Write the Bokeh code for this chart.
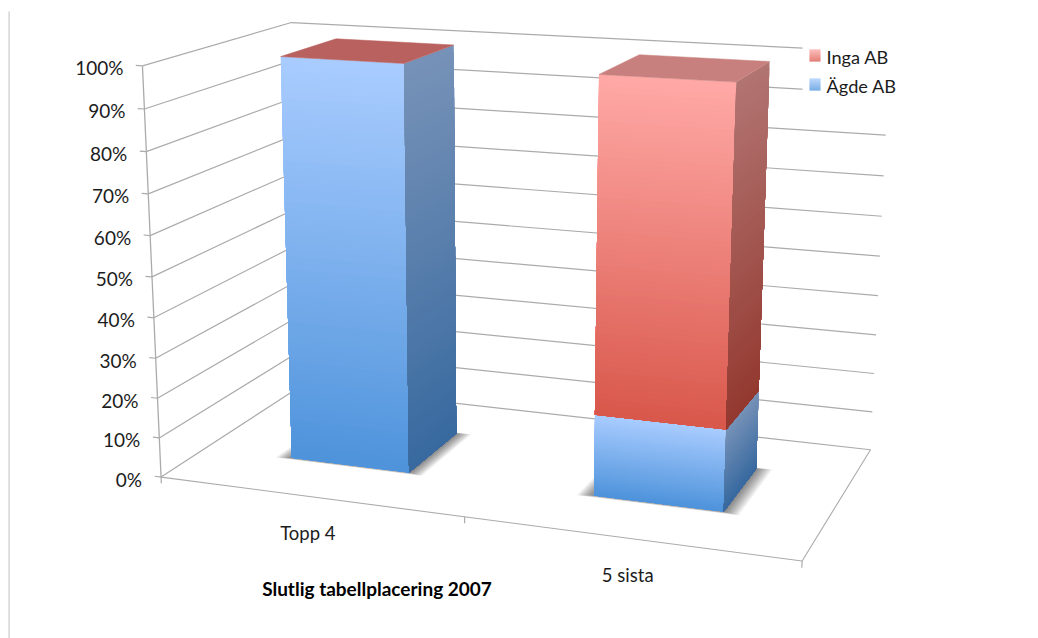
import numpy as np
from bokeh.plotting import figure
from bokeh.models import Range1d
from bokeh.core.properties import value
from bokeh.embed import file_html
from bokeh.resources import INLINE

categories = ["Topp 4", "5 sista"]
agde_ab = [100, 20]
inga_ab = [0, 80]
series_names = ["Inga AB", "Ägde AB"]
tick_labels = ["0%", "10%", "20%", "30%", "40%", "50%", "60%", "70%", "80%", "90%", "100%"]
tick_values = [0, 10, 20, 30, 40, 50, 60, 70, 80, 90, 100]
x_title = "Slutlig tabellplacering 2007"

# Camera of the 3D scene: (u across, v depth, w height), all 0..1 -> page pixels
CAMERA = np.array([[560.1341648, 181.3390428, -25.9238668, 160.5711509],
                   [27.2716648, -38.0613016, -414.6129621, 476.6032257],
                   [-0.100934, 0.1377529, -0.0514683, 1.0]])
BAR_HALF = 0.10
DEPTH = (0.30, 0.70)
STRIPS = 60

FRONT = {"blue": ("#A9CCFF", "#4E93DB"), "red": ("#FFA9A6", "#D9574B")}
SIDE = {"blue": ("#7792B8", "#37699F"), "red": ("#B27472", "#93392F")}
TOP = ["#B9615E", "#C8807E"]
GRID = "#ABABAB"
TEXT = "#1C1C1C"
FONT = value("Lato")


def proj(u, v, w):
    q = CAMERA @ np.array([u, v, w, 1.0])
    return float(q[0] / q[2]), float(q[1] / q[2])


def face(corners):
    pts = [proj(*c) for c in corners]
    return [a for a, _ in pts], [b for _, b in pts]


def mix(a, b, t):
    ca = [int(a[i:i + 2], 16) for i in (1, 3, 5)]
    cb = [int(b[i:i + 2], 16) for i in (1, 3, 5)]
    return "#%02x%02x%02x" % tuple(round(x + (y - x) * t) for x, y in zip(ca, cb))


p = figure(width=1038, height=638, x_range=Range1d(0, 1038), y_range=Range1d(638, 0),
           min_border=0, toolbar_location=None, output_backend="svg",
           x_axis_location=None, y_axis_location=None, outline_line_color=None)
p.grid.visible = False

# page rule at the left
p.line([8.6, 8.6], [11, 638], line_color="#D2D2D2", line_width=1.4)

# walls
for t in tick_values:
    w = t / 100
    xs, ys = face([(0, 0, w), (0, 1, w), (1, 1, w)])
    p.line(xs, ys, line_color=GRID, line_width=1.2)
    xs, ys = face([(-0.011, 0, w), (0, 0, w)])
    p.line(xs, ys, line_color=GRID, line_width=1.2)

# frame: axis upright, floor edges, category ticks
xs, ys = face([(0, 0, 1), (0, 0, 0)])
p.line(xs, ys, line_color=GRID, line_width=1.3)
xs, ys = face([(0, 0, 0), (1, 0, 0), (1, 1, 0)])
p.line(xs, ys, line_color=GRID, line_width=1.1)
for u in (0, 0.5, 1):
    xs, ys = face([(u, 0, 0), (u, 0, -0.016)])
    p.line(xs, ys, line_color=GRID, line_width=1.2)

# bars
for i, name in enumerate(categories):
    u0 = (i + 0.5) / len(categories) - BAR_HALF
    u1 = (i + 0.5) / len(categories) + BAR_HALF
    v0, v1 = DEPTH
    # soft floor shadow
    for k in range(18, 0, -1):
        s = k / 18
        xs, ys = face([(u0 - 0.025 * s, v0 - 0.016 * s, 0), (u1 + 0.025 * s, v0 - 0.016 * s, 0),
                       (u1 + 0.025 * s, v1 + 0.01 * s, 0), (u0 - 0.025 * s, v1 + 0.01 * s, 0)])
        p.patch(xs, ys, fill_color="#000000", fill_alpha=0.03, line_color=None)
    base = 0.0
    for val, hue in ((agde_ab[i], "blue"), (inga_ab[i], "red")):
        w0, w1 = base, base + val / 100
        base = w1
        if val == 0:
            continue
        # each strip reaches down to the segment's foot, so no seams show between strips
        for table, mk in ((FRONT, lambda a, b: [(u0, v0, a), (u1, v0, a), (u1, v0, b), (u0, v0, b)]),
                          (SIDE, lambda a, b: [(u1, v0, a), (u1, v1, a), (u1, v1, b), (u1, v0, b)])):
            fx, fy, col = [], [], []
            for k in range(STRIPS):
                a = w1 - (w1 - w0) * k / STRIPS
                xs, ys = face(mk(a, w0))
                fx.append(xs)
                fy.append(ys)
                col.append(mix(table[hue][0], table[hue][1], (k + 0.5) / STRIPS))
            p.patches(fx, fy, fill_color=col, line_color=None)
    xs, ys = face([(u0, v0, base), (u1, v0, base), (u1, v1, base), (u0, v1, base)])
    p.patch(xs, ys, fill_color=TOP[i], line_color=TOP[i], line_width=0.5)

# value labels
lx, ly = zip(*[proj(0, 0, t / 100) for t in tick_values])
p.text(list(lx), list(ly), text=tick_labels, x_offset=-19, y_offset=2,
       text_align="right", text_baseline="middle", text_font=FONT,
       text_font_size="19px", text_color=TEXT)

# category labels
cx, cy = zip(*[proj((i + 0.5) / len(categories), 0, 0) for i in range(len(categories))])
p.text(list(cx), list(cy), text=categories, x_offset=-1, y_offset=37,
       text_align="center", text_baseline="middle", text_font=FONT,
       text_font_size="18.5px", text_color=TEXT)

# axis title
p.text([376.5], [588], text=[x_title], text_align="center", text_baseline="middle",
       text_font=FONT, text_font_style="bold", text_font_size="19px", text_color="#000000")

# legend
p.quad(left=[802], right=[905], top=[30], bottom=[100], fill_color="#FFFFFF", line_color=None)
for y0, hue, label in ((49, "red", series_names[0]), (78, "blue", series_names[1])):
    q_top = [y0 + k for k in range(12)]
    c = [mix(FRONT[hue][0], FRONT[hue][1], (k + 0.5) / 12) for k in range(12)]
    p.quad(left=[809] * 12, right=[820] * 12, top=q_top, bottom=[y + 1.1 for y in q_top],
           fill_color=c, line_color=None)
    p.text([826], [y0 + 7], text=[label], text_align="left", text_baseline="middle",
           text_font=FONT, text_font_size="18.2px", text_color=TEXT)

open("out.html", "w").write(file_html(p, INLINE))
